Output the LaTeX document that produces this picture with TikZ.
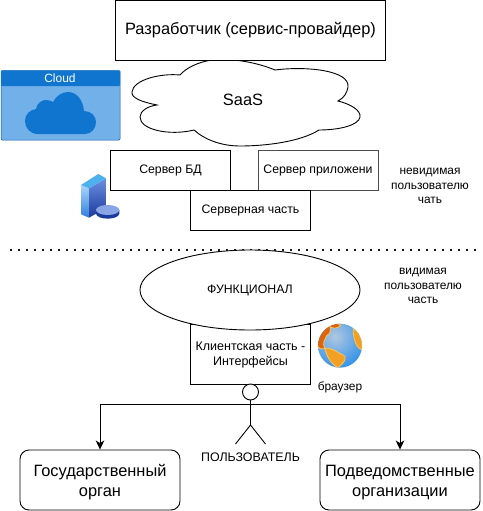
\documentclass[tikz,border=0pt]{standalone}
\usepackage{fontspec}
\setmainfont{Liberation Sans}
\usetikzlibrary{arrows.meta,shapes.geometric}
\definecolor{tilehead}{HTML}{0F75CF}
\definecolor{tilebody}{HTML}{72B0EA}
\definecolor{icontop}{HTML}{4FB0EE}
\definecolor{iconlight}{HTML}{A9D6FA}
\definecolor{iconmid}{HTML}{2F7FE0}
\definecolor{iconside}{HTML}{6C8FDF}
\definecolor{icondark}{HTML}{1B3A9E}
\definecolor{globehi}{HTML}{AFC8E0}
\definecolor{globesea}{HTML}{2F8FEA}
\definecolor{landdark}{HTML}{DB6410}
\definecolor{landmid}{HTML}{F2A024}
\definecolor{landrim}{HTML}{F8C860}
\tikzset{
  box/.style={draw=black,fill=white,line width=0.9pt,minimum width=120pt,minimum height=40pt,inner sep=0pt,align=center,font=\fontsize{12.3}{15}\selectfont},
  bigbox/.style={draw=black,fill=white,line width=0.9pt,rounded corners=9pt,minimum width=160pt,minimum height=60pt,inner sep=0pt,align=center,font=\fontsize{16.4}{20}\selectfont},
  lbl/.style={align=center,inner sep=0pt,font=\fontsize{11.9}{14.5}\selectfont},
  conn/.style={draw=black,line width=0.9pt,-{Stealth[length=9pt,width=8.5pt,inset=2.5pt]}},
  line/.style={draw=black,line width=0.9pt},
  land/.style={fill=landmid,draw=landrim,line width=0.8pt}
}
\begin{document}
\begin{tikzpicture}[x=1pt,y=-1pt]
\useasboundingbox (0,0) rectangle (482,511);
% Cloud tile
\fill[tilebody,rounded corners=1pt] (1,70.5) rectangle (120,140);
\draw[tilehead!80!black,line width=0.5pt,rounded corners=1pt] (1,70.5) rectangle (120,140);
\fill[tilehead,rounded corners=1pt] (1,70.5) rectangle (120,86);
\node[text=white,inner sep=0pt,font=\fontsize{12}{14}\selectfont] (cloudtitle) at (60,78) {Cloud};
\fill[tilehead] (38,134) .. controls (30,134) and (25,128) .. (25,121)
  .. controls (25,114) and (30,110) .. (36,109)
  .. controls (37,103) and (42,100) .. (46,100)
  .. controls (49,100) and (51,101) .. (53,102)
  .. controls (56,96) and (62,92) .. (68,92)
  .. controls (76,92) and (83,99) .. (84,111)
  .. controls (91,111) and (96,116) .. (96,122)
  .. controls (96,129) and (91,134) .. (85,134) -- cycle;
% SaaS cloud
\draw[line,fill=white] (180,75)
  .. controls (186,68) and (198,62) .. (212,60)
  .. controls (235,58) and (258,63) .. (275,70)
  .. controls (305,66) and (350,70) .. (348,87)
  .. controls (347,93) and (344,98) .. (338,101)
  .. controls (350,104) and (361,110) .. (360,117)
  .. controls (359,125) and (340,130) .. (319,130)
  .. controls (300,142) and (265,146) .. (240,146)
  .. controls (222,146) and (205,140) .. (194,130)
  .. controls (170,136) and (140,130) .. (140,117)
  .. controls (140,111) and (148,106) .. (157,105)
  .. controls (142,102) and (131,98) .. (132,92)
  .. controls (133,80) and (160,73) .. (180,75) -- cycle;
\node[inner sep=0pt,font=\fontsize{16.4}{20}\selectfont] (saas) at (243,100) {SaaS};
% top box
\node[box,minimum width=270pt,minimum height=60pt,font=\fontsize{16.4}{20}\selectfont] (dev) at (250.5,30.5) {Разработчик (сервис-провайдер)};
% server boxes
\node[box] (db) at (170.5,170.5) {Сервер БД};
\node[box,draw=black!70] (app) at (318,170.5) {Сервер приложени};
\node[box] (srv) at (250.5,210.5) {Серверная часть};
\node[lbl] (inv) at (430,186) {невидимая\\пользователю\\чать};
% server icon
\begin{scope}[shift={(75pt,-165pt)},x=0.3333pt,y=-0.3333pt]
\shade[top color=iconside,bottom color=icondark] (42,70) -- (93,40) -- (93,130) -- (42,158) -- cycle;
\shade[top color=iconlight,bottom color=iconmid] (18,60) -- (42,70) -- (42,158) -- (18,148) -- cycle;
\fill[icontop] (18,60) -- (70,27) -- (93,40) -- (42,70) -- cycle;
\fill[icondark] (63,135) -- (63,146) .. controls (66,166) and (130,166) .. (133,146) -- (133,135) -- cycle;
\fill[iconside!80!white] (98,135) ellipse (35 and 15);
\end{scope}
% divider
\draw[line width=2pt,dash pattern=on 2pt off 6pt,black!90] (10.3,250.3) -- (477,250.3);
% client + ellipse
\node[box,minimum height=60pt,font=\fontsize{12.5}{15}\selectfont] (client) at (250.5,354.5) {Клиентская часть -\\Интерфейсы};
\node[draw=black,fill=white,line width=0.9pt,ellipse,minimum width=220pt,minimum height=80pt,inner sep=0pt,font=\fontsize{12.3}{14}\selectfont] (func) at (250,290) {ФУНКЦИОНАЛ};
\node[lbl] (vis) at (423,286) {видимая\\пользователю\\часть};
% globe
\begin{scope}[shift={(310pt,-315pt)},x=0.3333pt,y=-0.3333pt]
\begin{scope}
\clip (90,92) circle (66);
\shade[inner color=globehi,outer color=globesea] (75,65) circle (100);
\path[land,fill=landdark] (20,90) .. controls (20,55) and (35,30) .. (60,28)
  .. controls (60,45) and (65,55) .. (50,62) .. controls (45,75) and (35,85) .. (45,100)
  .. controls (35,105) and (25,100) .. (20,90) -- cycle;
\path[land,fill=landdark] (60,26) .. controls (75,22) and (85,24) .. (92,32)
  .. controls (80,42) and (70,40) .. (60,36) -- cycle;
\path[land] (130,40) .. controls (150,50) and (160,80) .. (155,105)
  .. controls (140,100) and (128,70) .. (130,40) -- cycle;
\path[land] (45,100) .. controls (60,96) and (80,110) .. (95,118)
  .. controls (115,125) and (105,140) .. (85,158) .. controls (65,150) and (50,125) .. (45,100) -- cycle;
\end{scope}
\end{scope}
\node[lbl] (browser) at (340,387) {браузер};
% actor
\node[draw=black,fill=white,circle,line width=0.9pt,minimum size=16pt,inner sep=0pt] (head) at (250.5,392) {};
\coordinate (hip) at (250.5,425);
\coordinate (lf) at (235.5,444);
\coordinate (rf) at (265.5,444);
\coordinate (hand) at (250.5,404.5);
\draw[line] (head.south) -- (hip);
\draw[line] (lf) -- (hip) -- (rf);
\node[inner sep=0pt,font=\fontsize{12.4}{14}\selectfont] (user) at (250.5,457.5) {ПОЛЬЗОВАТЕЛЬ};
% lower boxes
\node[bigbox] (gov) at (100,480) {\rule{0pt}{16pt}Государственный\\орган};
\node[bigbox] (sub) at (400,480) {\rule{0pt}{16pt}Подведомственные\\организации};
\draw[conn] (hand) -| (gov.north);
\draw[conn] (hand) -| (sub.north);
\end{tikzpicture}
\end{document}
